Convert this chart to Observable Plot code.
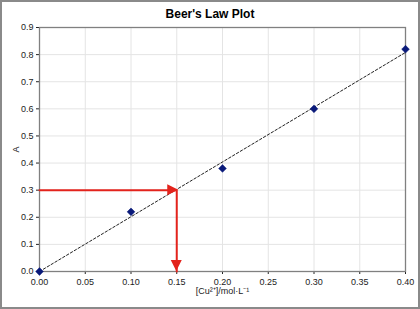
<!DOCTYPE html>
<html><head><meta charset="utf-8">
<script src="https://cdn.jsdelivr.net/npm/d3@7"></script>
<script src="https://cdn.jsdelivr.net/npm/@observablehq/plot@0.6"></script>
<style>
body{margin:0;background:#fff;}
#chart{width:420px;height:309px;box-sizing:border-box;border:2px solid #8a8a8a;background:#fff;font-family:"Liberation Sans",Arial,sans-serif;overflow:hidden;}
#title{height:20px;line-height:24px;text-align:center;font-weight:bold;font-size:12px;color:#000;}
svg{display:block;}
</style></head>
<body><div id="chart"><div id="title">Beer's Law Plot</div></div>
<script>
const concentration = [0.00, 0.10, 0.20, 0.30, 0.40];
const absorbance = [0.00, 0.22, 0.38, 0.60, 0.82];
const trendX = [0.00, 0.40];
const trendY = [0.00, 0.808];
const readX = [0.00, 0.15, 0.15];
const readY = [0.30, 0.30, 0.00];
const xTicks = [0, 0.05, 0.10, 0.15, 0.20, 0.25, 0.30, 0.35, 0.40];
const yTicks = [0, 0.1, 0.2, 0.3, 0.4, 0.5, 0.6, 0.7, 0.8, 0.9];

const points = concentration.map((c, i) => ({x: c, y: absorbance[i]}));
const trend = trendX.map((c, i) => ({x: c, y: trendY[i]}));
const path = readX.map((c, i) => ({x: c, y: readY[i]}));
const red = "#e3231c";

// arrowheads: tips at read-path vertices 1 (pointing right) and 2 (pointing down)
function arrowheads(index, scales) {
  const g = d3.create("svg:g");
  const tips = [
    {x: path[1].x, y: path[1].y, dir: "right"},
    {x: path[2].x, y: path[2].y, dir: "down"}
  ];
  for (const t of tips) {
    const px = scales.x(t.x), py = scales.y(t.y);
    let pts;
    if (t.dir === "right") pts = [[px + 2, py], [px - 9, py - 5.5], [px - 9, py + 5.5]];
    else pts = [[px, py], [px - 5.5, py - 11], [px + 5.5, py - 11]];
    g.append("polygon").attr("points", pts.map(p => p.join(",")).join(" ")).attr("fill", red);
  }
  return g.node();
}

const plot = Plot.plot({
  width: 416,
  height: 285,
  marginTop: 5,
  marginLeft: 37,
  marginRight: 13,
  marginBottom: 36,
  style: {fontFamily: '"Liberation Sans", Arial, sans-serif', fontSize: "9px", color: "#222", background: "#fff"},
  x: {domain: [0, 0.4], ticks: xTicks, tickFormat: d3.format(".2f"), label: "[Cu²⁺]/mol·L⁻¹", labelArrow: "none", labelAnchor: "center", labelOffset: 22, tickSize: 3, tickPadding: 4},
  y: {domain: [0, 0.9], ticks: yTicks, tickFormat: d3.format(".1f"), label: "A", labelArrow: "none", labelAnchor: "center", labelOffset: 27, tickSize: 3, tickPadding: 3},
  marks: [
    Plot.gridX(xTicks, {stroke: "#e4e4e4", strokeOpacity: 1}),
    Plot.gridY(yTicks, {stroke: "#e4e4e4", strokeOpacity: 1}),
    Plot.frame({stroke: "#808080", strokeWidth: 1.3}),
    Plot.line(trend, {x: "x", y: "y", stroke: "#222", strokeWidth: 1, strokeDasharray: "2.5,2"}),
    Plot.line(path, {x: "x", y: "y", stroke: red, strokeWidth: 2}),
    arrowheads,
    Plot.dot(points, {x: "x", y: "y", symbol: "diamond2", r: 3.5, fill: "#0a1a7a", stroke: "#0a1a7a", strokeWidth: 0.5})
  ]
});
document.getElementById("chart").appendChild(plot);
</script></body></html>
